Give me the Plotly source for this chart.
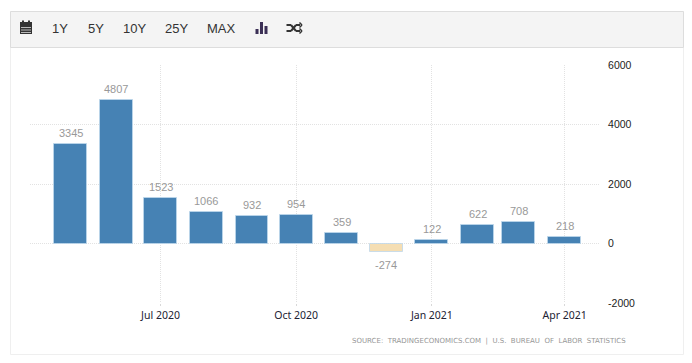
import plotly.graph_objects as go

dates = ["2020-05-01","2020-06-01","2020-07-01","2020-08-01","2020-09-01","2020-10-01",
         "2020-11-01","2020-12-01","2021-01-01","2021-02-01","2021-03-01","2021-04-01"]
values = [3345,4807,1523,1066,932,954,359,-274,122,622,708,218]
x_tick_vals = ["2020-07-01","2020-10-01","2021-01-01","2021-04-01"]
x_tick_text = ["Jul 2020","Oct 2020","Jan 2021","Apr 2021"]
y_ticks = [-2000,0,2000,4000,6000]
toolbar_labels = ["1Y","5Y","10Y","25Y","MAX"]
toolbar_x = [60,95.5,134.5,176.5,221]
source = "SOURCE:  TRADINGECONOMICS.COM  |  U.S.  BUREAU  OF  LABOR  STATISTICS"

L,R,T,B = 30,600,65,303
W,H = 692,363
def px(x): return (x-L)/(R-L)
def py(y): return 1-(y-T)/(B-T)
def rect(x0,y0,x1,y1,fill="rgba(0,0,0,0)",line="rgba(0,0,0,0)",lw=1,layer="below"):
    return dict(type="rect",xref="paper",yref="paper",x0=px(x0),x1=px(x1),y0=py(y0),y1=py(y1),
                fillcolor=fill,line=dict(color=line,width=lw),layer=layer)
def seg(x0,y0,x1,y1,c,w):
    return dict(type="line",xref="paper",yref="paper",x0=px(x0),x1=px(x1),y0=py(y0),y1=py(y1),
                line=dict(color=c,width=w),layer="above")

colors = ["#4682B4" if v>=0 else "#F5DEB3" for v in values]
fig = go.Figure(go.Bar(
    x=dates,y=values,width=[22.3*86400000]*len(values),
    marker=dict(color=colors,line=dict(color="rgba(190,215,235,0.8)",width=1)),
    hoverinfo="x+y"))

shapes=[
    rect(10.5,47.5,683.5,354.5,fill="#ffffff",line="#efefef"),
    rect(10.5,11.5,683.5,47.5,fill="#f4f4f4",line="#dddddd"),
]
# calendar icon
ic="#333333"
shapes+=[rect(20,22,32,34,fill=ic,layer="above"),rect(22,20.5,24,23,fill=ic,layer="above"),rect(28,20.5,30,23,fill=ic,layer="above")]
shapes+=[seg(21,27.5,31,27.5,"#f4f4f4",0.7),seg(21,30,31,30,"#f4f4f4",0.7),seg(21,32.5,31,32.5,"#f4f4f4",0.7)]
# bars icon
bc="#3b2f55"
shapes+=[rect(255.5,29,258.5,34,fill=bc,layer="above"),rect(260,22,263,34,fill=bc,layer="above"),rect(264.5,26,267.5,34,fill=bc,layer="above")]
# shuffle icon
shapes+=[seg(286.5,25,291,25,ic,2),seg(291,25,296,31,ic,2),seg(296,31,300,31,ic,2),
         seg(286.5,31,291,31,ic,2),seg(291,31,296,25,ic,2),seg(296,25,300,25,ic,2),
         seg(299.5,22.5,302,25,ic,1.5),seg(299.5,27.5,302,25,ic,1.5),
         seg(299.5,28.5,302,31,ic,1.5),seg(299.5,33.5,302,31,ic,1.5)]

ann=[dict(xref="paper",yref="paper",x=px(x),y=py(28.5),text=t,showarrow=False,xanchor="center",yanchor="middle",
          font=dict(family="Liberation Sans, Arial",size=13,color="#333333"))
     for t,x in zip(toolbar_labels,toolbar_x)]
ann.append(dict(xref="paper",yref="paper",x=px(628),y=py(341),text=source,showarrow=False,xanchor="right",yanchor="middle",
                font=dict(family="DejaVu Sans",size=7,color="#969696")))
ann+=[dict(x=d,y=v,xref="x",yref="y",text=str(v),showarrow=False,xanchor="center",
           yanchor="bottom" if v>=0 else "top",yshift=3 if v>=0 else -5,
           font=dict(family="Liberation Sans, Arial",size=11,color="#999999"))
      for d,v in zip(dates,values)]

fig.update_layout(
    width=W,height=H,margin=dict(l=L,r=W-R,t=T,b=H-B),
    paper_bgcolor="#ffffff",plot_bgcolor="rgba(0,0,0,0)",showlegend=False,
    shapes=shapes,annotations=ann,bargap=0,
    xaxis=dict(type="date",range=["2020-04-03 12:00","2021-04-25"],tickmode="array",
               tickvals=x_tick_vals,ticktext=x_tick_text,showgrid=True,griddash="1px,1px",gridcolor="#e2e2e2",gridwidth=1,
               ticks="outside",ticklen=2,tickcolor="#d8d8d8",tickwidth=1,zeroline=False,showline=False,
               tickfont=dict(family="Noto Sans",size=10.5,color="#222233")),
    yaxis=dict(side="right",range=[-2000,6000],tickmode="array",tickvals=y_ticks,ticktext=[str(v) for v in y_ticks],
               showgrid=True,griddash="1px,1px",gridcolor="#e2e2e2",gridwidth=1,zeroline=False,showline=False,
               ticks="outside",ticklen=5,tickcolor="rgba(0,0,0,0)",
               tickfont=dict(family="Liberation Sans, Arial",size=10.5,color="#222222")),
)
fig.write_html("out.html",config=dict(displayModeBar=False),
               post_script="document.body.style.margin='0';document.documentElement.style.overflow='hidden';")
